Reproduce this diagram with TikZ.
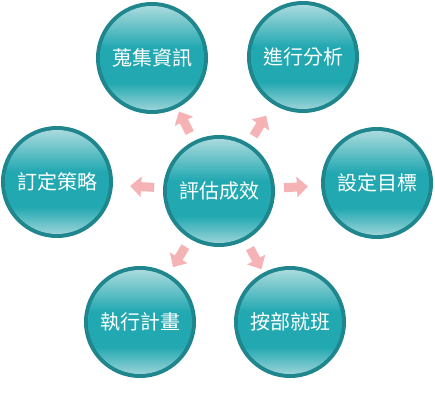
\documentclass[tikz,border=0pt]{standalone}
\usepackage{fontspec}
\newfontfamily\cjk{Noto Sans CJK TC}
\usetikzlibrary{arrows.meta,calc}
\definecolor{ringteal}{HTML}{1F868D}
\definecolor{balltop}{HTML}{A9DADD}
\definecolor{ballmid}{HTML}{22A8B1}
\definecolor{ballbot}{HTML}{9AD4D8}
\definecolor{arrowpink}{HTML}{F5B3B5}
\pgfdeclareverticalshading{ballshade}{100bp}{color(0bp)=(ballbot); color(25bp)=(ballbot); color(38bp)=(ballmid); color(55bp)=(ballmid); color(75bp)=(balltop); color(100bp)=(balltop)}

\begin{document}
\begin{tikzpicture}[x=1pt,y=-1pt,
	ball/.style={circle,minimum size=104pt,inner sep=0pt,text=white,
		font=\cjk\fontsize{20pt}{24pt}\selectfont,
		preaction={draw=ringteal,line width=8pt},
		shading=ballshade},
	flow/.style={draw=arrowpink,line width=9pt,-{Triangle[length=11pt,width=20pt]}}]
			\useasboundingbox (0,0) rectangle (435,419);
			\node[ball] (eval) at (219,191) {評估成效};
			\node[ball] (collect) at (152,58) {蒐集資訊};
			\node[ball] (analyse) at (303,57) {進行分析};
			\node[ball] (strategy) at (57,182) {訂定策略};
			\node[ball] (target) at (377,183) {設定目標};
			\node[ball] (execute) at (140,322) {執行計畫};
			\node[ball] (steps) at (290,322) {按部就班};
			\foreach \n in {collect,analyse,strategy,target,execute,steps} \draw[flow] ($(eval)!65pt!(\n)$) -- ($(eval)!89pt!(\n)$);
		\end{tikzpicture}
\end{document}
